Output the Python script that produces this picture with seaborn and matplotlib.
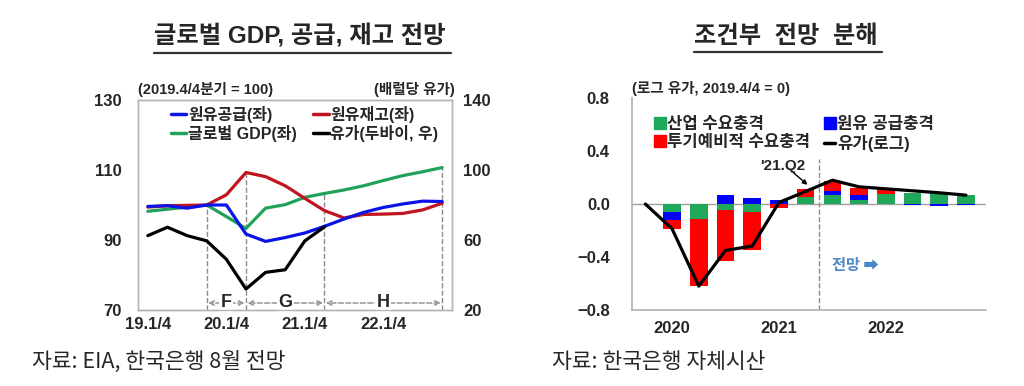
import matplotlib
matplotlib.use("Agg")
import matplotlib.pyplot as plt
from matplotlib.lines import Line2D
import numpy as np
import pandas as pd
import seaborn as sns

# ---- left panel data (quarterly 19Q1 .. 22Q4) ----
quarters = ["19Q1", "19Q2", "19Q3", "19Q4", "20Q1", "20Q2", "20Q3", "20Q4",
            "21Q1", "21Q2", "21Q3", "21Q4", "22Q1", "22Q2", "22Q3", "22Q4"]
oil_supply = [99.6, 99.8, 99.1, 100.0, 100.0, 91.7, 89.6, 90.7,
              92.0, 93.9, 96.0, 97.9, 99.3, 100.3, 101.1, 101.0]
oil_stock = [99.4, 99.8, 99.9, 100.0, 102.9, 109.3, 108.1, 105.5,
             101.9, 98.4, 96.3, 97.3, 97.4, 97.6, 98.6, 100.5]
global_gdp = [98.2, 98.8, 99.4, 100.0, 96.7, 93.3, 99.1, 100.1,
              102.2, 103.3, 104.3, 105.5, 107.0, 108.4, 109.5, 110.7]
dubai = [62.5, 67.3, 62.5, 59.5, 49.0, 32.0, 41.5, 43.0, 59.5, 67.5]
left_ticks = ["19.1/4", "20.1/4", "21.1/4", "22.1/4"]
phase_names = ["F", "G", "H"]
phase_bounds = [3, 5, 9, 15]

# ---- right panel data (bars 20Q1 .. 22Q4, line from 19Q4) ----
dec_quarters = ["19Q4", "20Q1", "20Q2", "20Q3", "20Q4", "21Q1", "21Q2",
                "21Q3", "21Q4", "22Q1", "22Q2", "22Q3", "22Q4"]
industry_shock = [-0.057, -0.112, -0.042, -0.060, 0.0, 0.050, 0.067, 0.032, 0.075, 0.087, 0.087, 0.067]
supply_shock = [-0.062, 0.0, 0.067, 0.045, 0.032, 0.0, 0.032, 0.040, 0.0, -0.007, -0.017, -0.007]
precaution_shock = [-0.072, -0.505, -0.386, -0.290, -0.032, 0.067, 0.075, 0.052, 0.042, 0.0, 0.007, 0.0]
log_oil = [0.0, -0.187, -0.62, -0.35, -0.317, 0.012, 0.095, 0.18, 0.13, 0.115, 0.10, 0.085, 0.067]
year_labels = ["2020", "2021", "2022"]

sns.set_theme(style="white")
plt.rcParams["font.family"] = ["Liberation Sans", "Noto Sans CJK KR", "DejaVu Sans"]
plt.rcParams["font.weight"] = "bold"

BLUE = "#0a14e6"
DRED = "#c0141e"
GREEN = "#21a25a"
GRAY = "#8c8c8c"
TICK = 12

fig = plt.figure(figsize=(10.24, 3.86), dpi=100)

# ================= left panel =================
ax1 = fig.add_axes([0.1348, 0.1969, 0.3066, 0.544])
ax1r = ax1.twinx()
df = pd.DataFrame({"i": np.arange(len(quarters)), "supply": oil_supply,
                   "stock": oil_stock, "gdp": global_gdp})
sns.lineplot(data=df, x="i", y="gdp", ax=ax1, color=GREEN, lw=2.3)
sns.lineplot(data=df, x="i", y="stock", ax=ax1, color=DRED, lw=2.3)
sns.lineplot(data=df, x="i", y="supply", ax=ax1, color=BLUE, lw=2.3)
sns.lineplot(x=np.arange(len(dubai)), y=dubai, ax=ax1r, color="black", lw=2.3)

ax1.set_xlim(-0.5, 15.5)
ax1.set_ylim(70, 130)
ax1.set_yticks([70, 90, 110, 130])
ax1r.set_ylim(20, 140)
ax1r.set_yticks([20, 60, 100, 140])
ax1.set_xticks([0, 4, 8, 12])
ax1.set_xticklabels(left_ticks)
for a in (ax1, ax1r):
    a.set_xlabel("")
    a.set_ylabel("")
    for s in a.spines.values():
        s.set_color("#b4b4b4")
        s.set_linewidth(1.0)
    a.grid(False)
ax1.tick_params(axis="y", length=0, pad=12, labelsize=TICK)
ax1.tick_params(axis="x", length=0, pad=5, labelsize=TICK)
ax1r.tick_params(axis="y", length=0, pad=8, labelsize=TICK)

series_max = np.max([oil_supply, oil_stock, global_gdp], axis=0)
for b in phase_bounds:
    ax1.vlines(b, 70, series_max[b], colors=GRAY, linestyles="--", lw=1.0, zorder=1)
for name, a, b in zip(phase_names, phase_bounds[:-1], phase_bounds[1:]):
    ax1.annotate("", xy=(a + 0.08, 72), xytext=(b - 0.08, 72),
                 arrowprops=dict(arrowstyle="<->", color=GRAY, ls="--", lw=1.0,
                                 shrinkA=0, shrinkB=0, mutation_scale=8))
    ax1.text((a + b) / 2, 72.2, name, ha="center", va="center", fontsize=13,
             fontweight="bold", bbox=dict(fc="white", ec="none", pad=1))

h = [Line2D([], [], color=BLUE, lw=2.5), Line2D([], [], color=GREEN, lw=2.5),
     Line2D([], [], color=DRED, lw=2.5), Line2D([], [], color="black", lw=2.5)]
ax1.legend(h, ["원유공급(좌)", "글로벌 GDP(좌)", "원유재고(좌)", "유가(두바이, 우)"],
           ncol=2, loc="upper center", bbox_to_anchor=(0.53, 1.04), frameon=False,
           handlelength=1.0, handletextpad=0.1, columnspacing=1.0,
           labelspacing=0.1, prop=dict(size=11.5, weight="bold"))
ax1.text(0.0, 1.012, "(2019.4/4분기 = 100)", transform=ax1.transAxes,
         ha="left", va="bottom", fontsize=10.5, fontweight="bold")
ax1.text(1.01, 1.012, "(배럴당 유가)", transform=ax1.transAxes,
         ha="right", va="bottom", fontsize=10.5, fontweight="bold")

# ================= right panel =================
ax2 = fig.add_axes([0.6172, 0.1969, 0.3457, 0.549])
bx = np.arange(1, len(dec_quarters))
pos = np.zeros(len(bx))
neg = np.zeros(len(bx))
for vals, col in [(industry_shock, "#1fa85a"), (supply_shock, "#0000ff"),
                  (precaution_shock, "#ff0000")]:
    v = np.array(vals)
    base = np.where(v >= 0, pos, neg)
    ax2.bar(bx, v, bottom=base, width=0.66, color=col, lw=0, zorder=2)
    pos = pos + np.clip(v, 0, None)
    neg = neg + np.clip(v, None, 0)
sns.lineplot(x=np.arange(len(log_oil)), y=log_oil, ax=ax2, color="black", lw=2.3, zorder=3)
ax2.axhline(0, color="#a0a0a0", lw=1.0, zorder=1)
ax2.vlines(6.5, -0.8, 0.34, colors=GRAY, linestyles="--", lw=1.0, zorder=1)

ax2.set_xlim(-0.5, 12.75)
ax2.set_ylim(-0.8, 0.8)
ax2.set_yticks([-0.8, -0.4, 0.0, 0.4, 0.8])
ax2.set_yticklabels([f"{t:.1f}".replace("-", "\u2212") for t in [-0.8, -0.4, 0.0, 0.4, 0.8]])
ax2.set_xticks([1, 5, 9])
ax2.set_xticklabels(year_labels)
ax2.set_xlabel("")
ax2.set_ylabel("")
ax2.grid(False)
for k, s in ax2.spines.items():
    s.set_color("#b4b4b4")
    s.set_visible(k in ("left", "bottom"))
ax2.tick_params(axis="y", length=0, pad=16, labelsize=TICK)
ax2.tick_params(axis="x", length=0, pad=8, labelsize=TICK)

h2 = [Line2D([], [], color="#1fa85a", marker="s", ls="none", markersize=8),
      Line2D([], [], color="#ff0000", marker="s", ls="none", markersize=8),
      Line2D([], [], color="#0000ff", marker="s", ls="none", markersize=8),
      Line2D([], [], color="black", lw=2.5)]
ax2.legend(h2, ["산업 수요충격", "투기예비적 수요충격", "원유 공급충격", "유가(로그)"],
           ncol=2, loc="upper left", bbox_to_anchor=(0.02, 0.98), frameon=False,
           handlelength=0.7, handletextpad=0.1, columnspacing=0.8,
           labelspacing=0.15, prop=dict(size=12, weight="bold"))
ax2.text(5.15, 0.29, "'21.Q2", ha="center", va="center", fontsize=11, fontweight="bold")
ax2.annotate("", xy=(6.07, 0.145), xytext=(5.55, 0.235),
             arrowprops=dict(arrowstyle="-|>", color="black", lw=1.0, mutation_scale=7,
                             shrinkA=0, shrinkB=0))
ax2.text(7.85, -0.46, "전망 ➡", ha="center", va="center", fontsize=11,
         fontweight="bold", color="#4a86c8", family=["Noto Sans CJK KR", "DejaVu Sans"])
ax2.text(0.0, 1.008, "(로그 유가, 2019.4/4 = 0)", transform=ax2.transAxes,
         ha="left", va="bottom", fontsize=10.5, fontweight="bold")

# ================= titles & sources =================
t1 = fig.text(0.293, 0.905, "글로벌 GDP, 공급, 재고 전망", ha="center", va="center",
              fontsize=17.5, fontweight="bold")
t2 = fig.text(0.767, 0.905, "조건부  전망  분해", ha="center", va="center",
              fontsize=17.5, fontweight="bold")
fig.canvas.draw()
r = fig.canvas.get_renderer()
for t in (t1, t2):
    bb = t.get_window_extent(r).transformed(fig.transFigure.inverted())
    fig.add_artist(Line2D([bb.x0, bb.x1 + 0.005], [bb.y0 - 0.01, bb.y0 - 0.01],
                          color="#333333", lw=1.6, transform=fig.transFigure))

fig.text(0.031, 0.062, "자료: EIA, 한국은행 8월 전망", ha="left", va="center",
         fontsize=15.5, fontweight="normal", family=["Noto Sans CJK KR"])
fig.text(0.539, 0.062, "자료: 한국은행 자체시산", ha="left", va="center",
         fontsize=15.5, fontweight="normal", family=["Noto Sans CJK KR"])

fig.savefig("out.png", dpi=100)
